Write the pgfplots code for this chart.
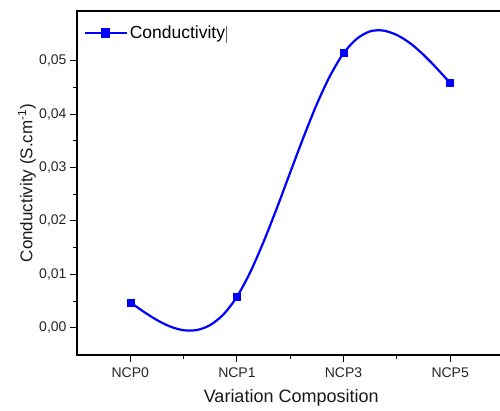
\documentclass[border=0pt]{standalone}
\usepackage{fontspec}
\setmainfont{Liberation Sans}
\usepackage{pgfplots}
\pgfplotsset{compat=1.18}
\begin{document}
\begin{tikzpicture}
\path[use as bounding box] (-77pt,-55pt) rectangle (423pt,355pt);
\begin{axis}[
  at={(0,0)}, anchor=south west,
  scale only axis, width=425pt, height=344pt,
  xmin=-0.5, xmax=3.486, ymin=-0.0051, ymax=0.0593,
  axis line style={line width=1.3pt, black},
  tick align=outside, tick pos=left,
  major tick length=7pt, minor tick length=4pt,
  every tick/.style={black, line width=1pt},
  xtick={0,1,2,3}, xticklabels={NCP0,NCP1,NCP3,NCP5},
  minor x tick num=1,
  ytick={0,0.01,0.02,0.03,0.04,0.05},
  minor y tick num=1,
  scaled y ticks=false,
  y tick label style={/pgf/number format/.cd, fixed, fixed zerofill, precision=2, use comma, assume math mode=true},
  tick label style={font=\fontsize{14}{16}\selectfont, color=black!85},
  x tick label style={yshift=-2pt},
  xlabel={Variation Composition},
  ylabel={Conductivity (S.cm\textsuperscript{-1})},
  label style={color=black!90},
  xlabel style={font=\fontsize{18}{21}\selectfont, at={(axis description cs:0.504,-0.125)}, anchor=center},
  ylabel style={font=\fontsize{17}{20}\selectfont, at={(axis description cs:-0.118,0.5)}, anchor=center},
  legend style={at={(axis description cs:0.008,0.936)}, anchor=west, draw=none, fill=none,
    font=\fontsize{17.5}{20}\selectfont},
  legend image code/.code={\draw[mark repeat=2,mark phase=2] plot coordinates {(0pt,0pt) (21pt,0pt) (42pt,0pt)};},
]
\addplot[blue, line width=2.2pt, smooth, forget plot] coordinates {
(0,0.00476) (0.125,0.00301) (0.25,0.00144) (0.375,0.00022) (0.5,-0.00046) (0.625,-0.00042) (0.75,0.00052) (0.875,0.00253) (1,0.0058)
(1.125,0.01041) (1.25,0.0161) (1.375,0.02243) (1.5,0.0291) (1.625,0.0357) (1.75,0.0419) (1.875,0.04723) (2,0.0514)
(2.125,0.05411) (2.25,0.0555) (2.375,0.05563) (2.5,0.0548) (2.625,0.05326) (2.75,0.0511) (2.875,0.04855) (3,0.0458)};
\addplot[blue, only marks, mark=square*, mark size=3.5pt, forget plot] coordinates {
(0,0.00476) (1,0.0058) (2,0.0514) (3,0.0458)};
\addlegendimage{blue, line width=2.2pt, mark=square*, mark size=3.5pt}
\addlegendentry{Conductivity\hspace{1pt}\textcolor{black!60}{\rule[-4pt]{0.7pt}{17pt}}}
\end{axis}
\end{tikzpicture}
\end{document}
